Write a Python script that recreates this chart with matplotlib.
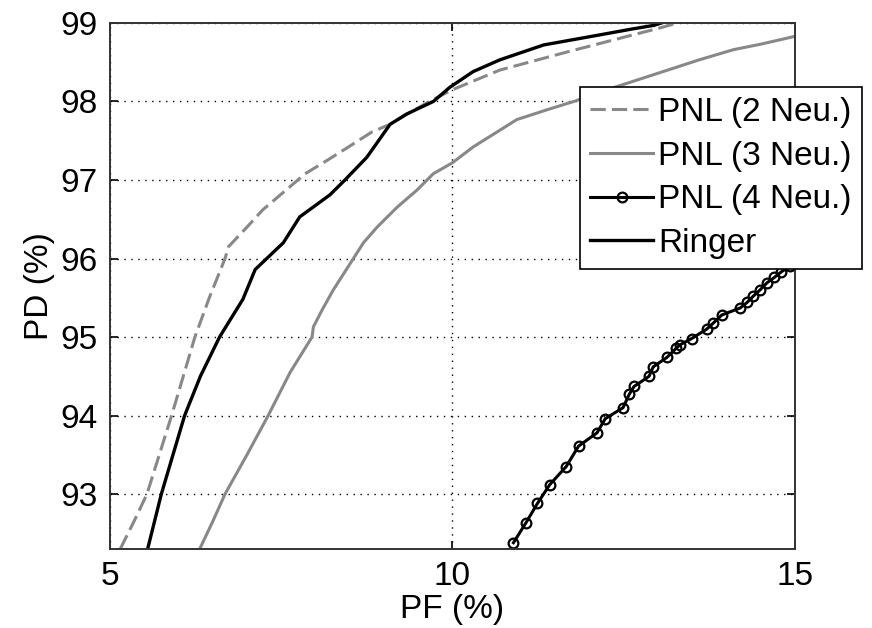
import matplotlib.pyplot as plt

plt.rcParams['font.family'] = ['Liberation Sans', 'DejaVu Sans']

# ROC points: PF (%) vs PD (%)
pf_pnl2 = [5.15, 5.35, 5.54, 5.72, 5.90, 6.07, 6.24, 6.45, 6.68, 6.73, 7.0, 7.23, 7.5, 7.85,
           8.17, 8.48, 8.82, 9.09, 9.4, 9.66, 10.0, 10.69, 11.2, 11.67, 12.2, 12.64, 13.0, 13.28]
pd_pnl2 = [92.3, 92.65, 93.0, 93.5, 94.0, 94.5, 95.0, 95.5, 96.0, 96.15, 96.4, 96.62, 96.82, 97.08,
           97.25, 97.42, 97.61, 97.71, 97.87, 98.0, 98.15, 98.4, 98.52, 98.63, 98.75, 98.85, 98.93, 99.0]

pf_pnl3 = [6.31, 6.5, 6.68, 7.0, 7.31, 7.63, 7.95, 7.97, 8.1, 8.26, 8.7, 8.9, 9.2, 9.48, 9.72, 10.0,
           10.3, 10.94, 11.4, 11.77, 12.4, 12.93, 13.6, 14.1, 14.5, 15.0]
pd_pnl3 = [92.3, 92.65, 93.0, 93.5, 94.0, 94.55, 95.0, 95.13, 95.35, 95.6, 96.2, 96.4, 96.66, 96.87, 97.08, 97.22,
           97.42, 97.77, 97.9, 98.0, 98.19, 98.34, 98.53, 98.66, 98.73, 98.83]

pf_pnl4 = [10.89, 11.07, 11.24, 11.42, 11.66, 11.84, 12.11, 12.23, 12.49, 12.58, 12.65, 12.87, 12.93,
           13.13, 13.27, 13.32, 13.49, 13.71, 13.81, 13.93, 14.2, 14.3, 14.39, 14.49, 14.59, 14.7,
           14.8, 14.92, 15.05]
pd_pnl4 = [92.38, 92.63, 92.88, 93.12, 93.35, 93.61, 93.78, 93.96, 94.1, 94.27, 94.37, 94.5, 94.62,
           94.74, 94.86, 94.9, 94.98, 95.1, 95.18, 95.28, 95.37, 95.44, 95.52, 95.6, 95.69, 95.76,
           95.83, 95.9, 96.0]

pf_ringer = [5.55, 5.75, 5.92, 6.09, 6.32, 6.6, 6.94, 7.12, 7.53, 7.77, 8.21, 8.43, 8.75, 8.92, 9.09,
             9.33, 9.72, 9.96, 10.3, 10.69, 11.33, 12.16, 12.6, 12.94, 13.05]
pd_ringer = [92.3, 93.0, 93.5, 94.0, 94.5, 95.0, 95.48, 95.86, 96.2, 96.53, 96.81, 97.0, 97.29, 97.5, 97.71,
             97.84, 98.0, 98.18, 98.38, 98.53, 98.72, 98.85, 98.92, 98.97, 99.0]

labels = ['PNL (2 Neu.)', 'PNL (3 Neu.)', 'PNL (4 Neu.)', 'Ringer']
xticks = [5, 10, 15]
yticks = [93, 94, 95, 96, 97, 98, 99]

gray = '#888888'

fig = plt.figure(figsize=(8.72, 6.28), dpi=100)
ax = fig.add_axes([0.1261, 0.1258, 0.7856, 0.8376])

ax.plot(pf_pnl2, pd_pnl2, '--', color=gray, lw=2.2, dashes=(5, 2), label=labels[0])
ax.plot(pf_pnl3, pd_pnl3, '-', color=gray, lw=2.2, label=labels[1])
ax.plot(pf_pnl4, pd_pnl4, '-', color='black', lw=2.2, marker='o', ms=7,
        mfc='none', mec='black', mew=1.6, label=labels[2])
ax.plot(pf_ringer, pd_ringer, '-', color='black', lw=2.4, label=labels[3])

ax.set_xlim(5, 15)
ax.set_ylim(92.3, 99)
ax.set_xticks(xticks)
ax.set_yticks(yticks)
ax.grid(True, color='black', linestyle=(0, (1, 4)), linewidth=1.0)
ax.tick_params(direction='in', length=6, width=1.2, labelsize=24, top=True, right=True, pad=9)
for s in ax.spines.values():
    s.set_linewidth(1.4)
    s.set_color('#333333')

ax.set_xlabel('PF (%)', fontsize=24, labelpad=1)
ax.set_ylabel('PD (%)', fontsize=24, labelpad=4)

leg = ax.legend(loc='upper right', bbox_to_anchor=(0.9885, 0.8615), bbox_transform=fig.transFigure,
                fontsize=24, frameon=True, fancybox=False, borderaxespad=0, borderpad=0.3,
                handlelength=1.9, handletextpad=0.15, labelspacing=0.38, markerscale=1.0)
leg.get_frame().set_edgecolor('black')
leg.get_frame().set_linewidth(1.2)
leg.get_frame().set_alpha(1)

fig.savefig('out.png', dpi=100)
plt.close(fig)
